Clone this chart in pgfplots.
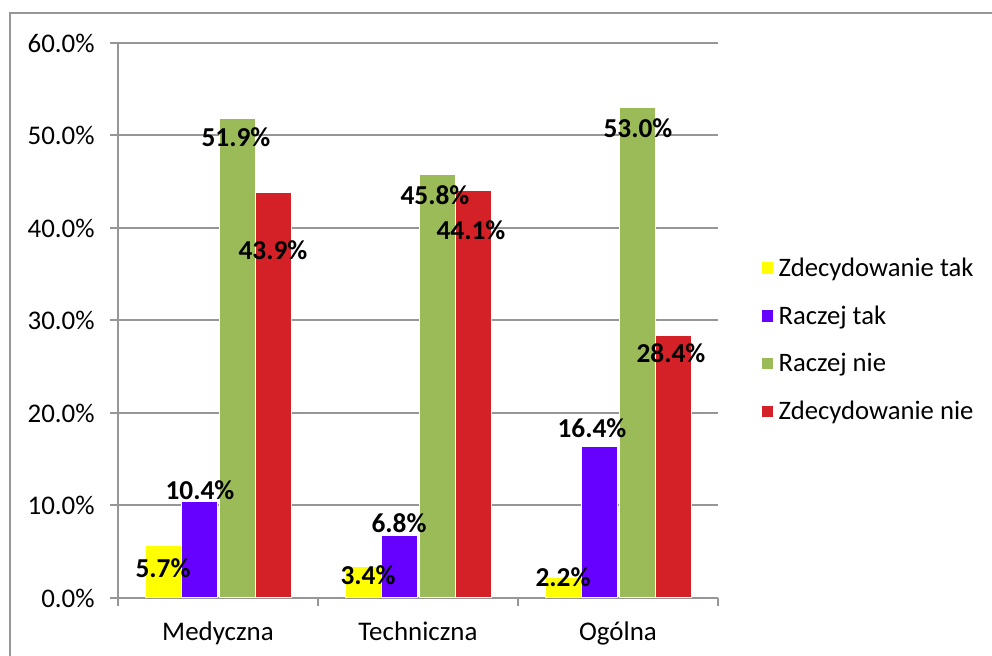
\documentclass[border=0pt]{standalone}
\usepackage{fontspec}
\setmainfont{Carlito}
\usepackage{pgfplots}
\pgfplotsset{compat=1.18}
\definecolor{cYel}{RGB}{255,255,0}
\definecolor{cPur}{RGB}{102,0,255}
\definecolor{cGrn}{RGB}{155,187,89}
\definecolor{cRed}{RGB}{212,32,39}
\definecolor{cAx}{RGB}{150,150,150}
\begin{document}
\begin{tikzpicture}[x=0.75pt,y=0.75pt]
\draw[cAx,line width=1.5pt] (10,-20) -- (10,643) -- (1010,643);
\begin{axis}[
  at={(88.5pt,43.5pt)}, anchor=south west,
  scale only axis, width=450pt, height=416.25pt,
  xmin=-0.5, xmax=2.5, ymin=0, ymax=60,
  ybar, bar width=0.178,
  axis lines*=left,
  axis line style={cAx, line width=1.5pt, -},
  tick align=outside,
  major tick length=6pt,
  tick style={cAx, line width=1.5pt},
  ytick={0,10,...,60},
  ymajorgrids,
  major grid style={cAx, line width=1.5pt},
  yticklabel={\pgfmathprintnumber[fixed,fixed zerofill,precision=1]{\tick}\%},
  yticklabel style={xshift=-8pt},
  /pgf/number format/assume math mode=true,
  xtick={-0.5,0.5,1.5,2.5},
  xticklabels={},
  extra x ticks={0,1,2},
  extra x tick labels={Medyczna,Techniczna,Ogólna},
  extra x tick style={tick style={draw=none}, grid=none, xticklabel style={yshift=-8.5pt}},
  ticklabel style={font=\fontsize{20.2}{24}\selectfont},
  legend style={at={(rel axis cs:1.066,0.623)}, anchor=north west, draw=none, fill=none,
    row sep=16.5pt, font=\fontsize{20}{24}\selectfont},
  legend cell align=left,
  legend image code/.code={\fill[#1,draw=none] (0pt,-4.2pt) rectangle (8.4pt,4.2pt); \path[draw=none,fill=none] (0pt,0pt) -- (10.5pt,0pt);},
]
\addplot[fill=cYel, draw=white, line width=1pt, bar shift=-0.2725] coordinates {(0,5.7) (1,3.4) (2,2.2)};
\addlegendentry{Zdecydowanie tak}
\addplot[fill=cPur, draw=white, line width=1pt, bar shift=-0.0925] coordinates {(0,10.4) (1,6.8) (2,16.4)};
\addlegendentry{Raczej tak}
\addplot[fill=cGrn, draw=white, line width=1pt, bar shift=0.0975] coordinates {(0,51.9) (1,45.8) (2,53.0)};
\addlegendentry{Raczej nie}
\addplot[fill=cRed, draw=white, line width=1pt, bar shift=0.2775] coordinates {(0,43.9) (1,44.1) (2,28.4)};
\addlegendentry{Zdecydowanie nie}
\begin{scope}[every node/.style={font=\fontsize{20.5}{24}\selectfont\bfseries, inner sep=0pt, anchor=center}]
\node at (axis cs:-0.275,3.24) {5.7\%};
\node at (axis cs:-0.09,11.68) {10.4\%};
\node at (axis cs:0.09,49.84) {51.9\%};
\node at (axis cs:0.275,37.62) {43.9\%};
\node at (axis cs:0.75,2.49) {3.4\%};
\node at (axis cs:0.905,8.11) {6.8\%};
\node at (axis cs:1.085,43.57) {45.8\%};
\node at (axis cs:1.265,39.78) {44.1\%};
\node at (axis cs:1.725,2.27) {2.2\%};
\node at (axis cs:1.87,18.38) {16.4\%};
\node at (axis cs:2.1,50.81) {53.0\%};
\node at (axis cs:2.265,26.49) {28.4\%};
\end{scope}
\end{axis}
\pgfresetboundingbox
\useasboundingbox (0,0) rectangle (992,656);
\end{tikzpicture}
\end{document}
